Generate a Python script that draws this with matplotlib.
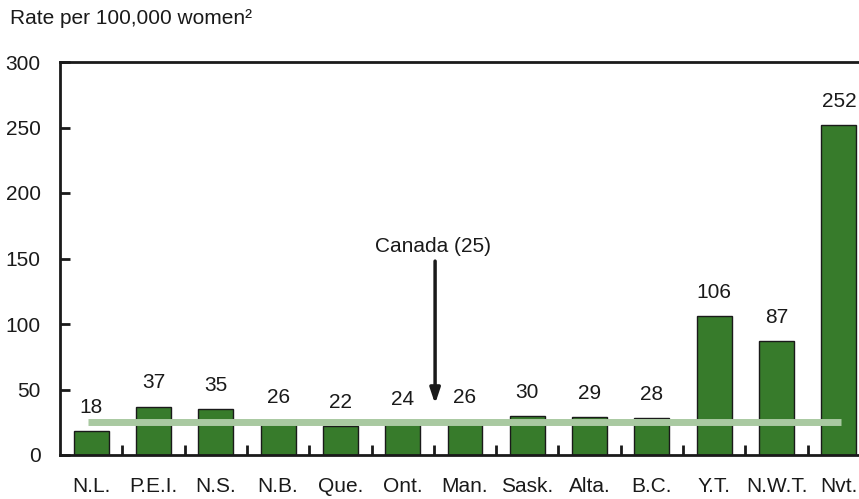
import numpy as np
import matplotlib.pyplot as plt
from matplotlib.ticker import FixedLocator

plt.rcParams['font.family'] = ['Liberation Sans', 'DejaVu Sans']

# data
provinces = ["N.L.", "P.E.I.", "N.S.", "N.B.", "Que.", "Ont.", "Man.",
             "Sask.", "Alta.", "B.C.", "Y.T.", "N.W.T.", "Nvt."]
rates = [18, 37, 35, 26, 22, 24, 26, 30, 29, 28, 106, 87, 252]
canada_rate = 25

bar_green = "#377b2b"
line_green = "#a9c9a1"
fs = 15

fig = plt.figure(figsize=(8.59, 4.99), dpi=100)
W, H = 859, 499
# axes from x=60 px, slots of ~62.3 px, bottom 455 px, top 62 px
ax = fig.add_axes([60 / W, (H - 455) / H, 810 / W, (455 - 62) / H])

x = np.arange(len(provinces))
ax.bar(x, rates, width=0.56, color=bar_green, edgecolor="#1a1a1a", linewidth=1.0, zorder=2)

for xi, v in zip(x, rates):
    ax.annotate(str(v), (xi, v), xytext=(0, 17), textcoords="offset points",
                ha="center", va="center", fontsize=fs, color="#1a1a1a")

ax.hlines(canada_rate, -0.05, 12.04, color=line_green, linewidth=5, zorder=3)

ax.annotate("", xy=(5.52, 39), xytext=(5.52, 148),
            arrowprops=dict(arrowstyle="-|>,head_length=0.9,head_width=0.3",
                            color="#1a1a1a", lw=2.5, shrinkA=0, shrinkB=0))
ax.text(5.49, 159, "Canada (25)", ha="center", va="center", fontsize=fs, color="#1a1a1a")

ax.set_xlim(-0.5, 12.5)
ax.set_ylim(0, 300)
ax.set_yticks([0, 50, 100, 150, 200, 250, 300])
ax.set_xticks(x)
ax.set_xticklabels(provinces)
ax.xaxis.set_minor_locator(FixedLocator(np.arange(0.5, 12, 1)))

ax.tick_params(axis="y", direction="in", length=7, width=2, pad=14, labelsize=fs,
               colors="#1a1a1a")
ax.tick_params(axis="x", which="major", length=0, pad=16, labelsize=fs, colors="#1a1a1a")
ax.tick_params(axis="x", which="minor", direction="in", length=7, width=2, color="#1a1a1a")

for side in ["left", "bottom", "top"]:
    ax.spines[side].set_linewidth(2)
    ax.spines[side].set_color("#1a1a1a")
ax.spines["right"].set_visible(False)

fig.text(10 / W, 1 - 18 / H, "Rate per 100,000 women²", ha="left", va="center",
         fontsize=fs, color="#1a1a1a")

fig.savefig("out.png", dpi=100)
